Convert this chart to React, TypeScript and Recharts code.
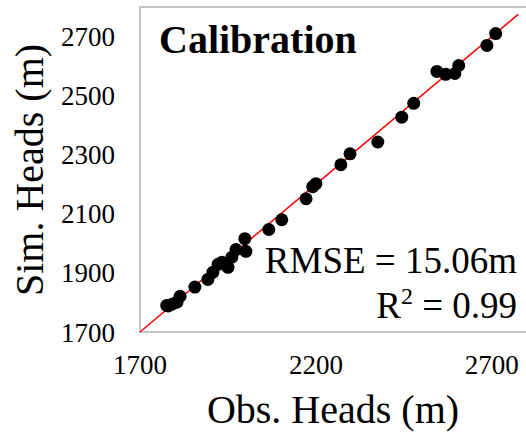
import React from "react";
import {
  ScatterChart,
  Scatter,
  XAxis,
  YAxis,
  ReferenceLine,
  ReferenceArea,
} from "recharts";

// Observed vs simulated heads (m) at the calibration wells
const obsHeads = [
  1780, 1791, 1805, 1814, 1776, 1856, 1893, 1907, 1922, 1933, 1950, 1961, 1973,
  2001, 1998, 2066, 2103, 2172, 2191, 2200, 2271, 2297, 2376, 2444, 2478, 2544,
  2569, 2595, 2606, 2686, 2711,
];
const simHeads = [
  1788, 1794, 1801, 1821, 1790, 1852, 1878, 1902, 1929, 1936, 1919, 1953, 1979,
  1973, 2016, 2047, 2080, 2151, 2192, 2202, 2266, 2303, 2343, 2427, 2474, 2582,
  2572, 2575, 2602, 2670, 2710,
];

const xTicks = [1700, 2200, 2700];
const yTicks = [1700, 1900, 2100, 2300, 2500, 2700];
const axisDomain: [number, number] = [1700, 2800];
// 1:1 line drawn across the observed range
const oneToOne = [1700, 2775];

const points = obsHeads.map((x, i) => ({ obs: x, sim: simHeads[i] }));

const FONT = "'Liberation Serif', 'Times New Roman', serif";

const Dot = (props: any) => {
  const { cx, cy } = props;
  if (cx == null || cy == null) return null;
  return <circle cx={cx} cy={cy} r={6.5} fill="#000" />;
};

export default function App() {
  return (
    <div style={{ position: "absolute", left: 0, top: 0, width: 526, height: 435, overflow: "hidden", background: "#fff" }}>
      <ScatterChart
        width={530}
        height={435}
        margin={{ top: 7, right: 3, bottom: 0, left: 0 }}
      >
        <XAxis
          type="number"
          dataKey="obs"
          domain={axisDomain}
          ticks={xTicks}
          axisLine={false}
          tickLine={false}
          tickSize={0}
          tickMargin={23}
          height={103}
          allowDataOverflow
          tick={{ fill: "#000", fontSize: 27, fontFamily: FONT }}
        />
        <YAxis
          type="number"
          dataKey="sim"
          domain={axisDomain}
          ticks={yTicks}
          axisLine={false}
          tickLine={false}
          tickSize={0}
          tickMargin={25}
          width={140}
          allowDataOverflow
          tick={{ fill: "#000", fontSize: 27, fontFamily: FONT }}
        />
        <ReferenceArea
          x1={axisDomain[0]}
          x2={axisDomain[1]}
          y1={axisDomain[0]}
          y2={axisDomain[1]}
          fill="none"
          stroke="#c4c4c4"
          strokeWidth={2}
        />
        <Scatter data={points} shape={<Dot />} isAnimationActive={false} />
        <ReferenceLine
          segment={[
            { x: oneToOne[0], y: oneToOne[0] },
            { x: oneToOne[1], y: oneToOne[1] },
          ]}
          stroke="#ff0000"
          strokeWidth={1.5}
        />
      </ScatterChart>
      <svg
        width={526}
        height={435}
        style={{ position: "absolute", left: 0, top: 0, pointerEvents: "none" }}
      >
        <text x={159} y={53} fontSize={40} fontWeight="bold" fill="#000" style={{ fontFamily: FONT }}>
          Calibration
        </text>
        <text x={517} y={273} fontSize={37} textAnchor="end" fill="#000" style={{ fontFamily: FONT }}>
          RMSE = 15.06m
        </text>
        <text x={517} y={318} fontSize={37} textAnchor="end" fill="#000" style={{ fontFamily: FONT }}>
          R
          <tspan fontSize={24} dy={-14}>2</tspan>
          <tspan dy={14}> = 0.99</tspan>
        </text>
        <text x={333} y={423} fontSize={40} textAnchor="middle" fill="#000" style={{ fontFamily: FONT }}>
          Obs. Heads (m)
        </text>
        <text
          x={43}
          y={170}
          fontSize={40}
          textAnchor="middle"
          fill="#000"
          style={{ fontFamily: FONT }}
          transform="rotate(-90 43 170)"
        >
          Sim. Heads (m)
        </text>
      </svg>
    </div>
  );
}
